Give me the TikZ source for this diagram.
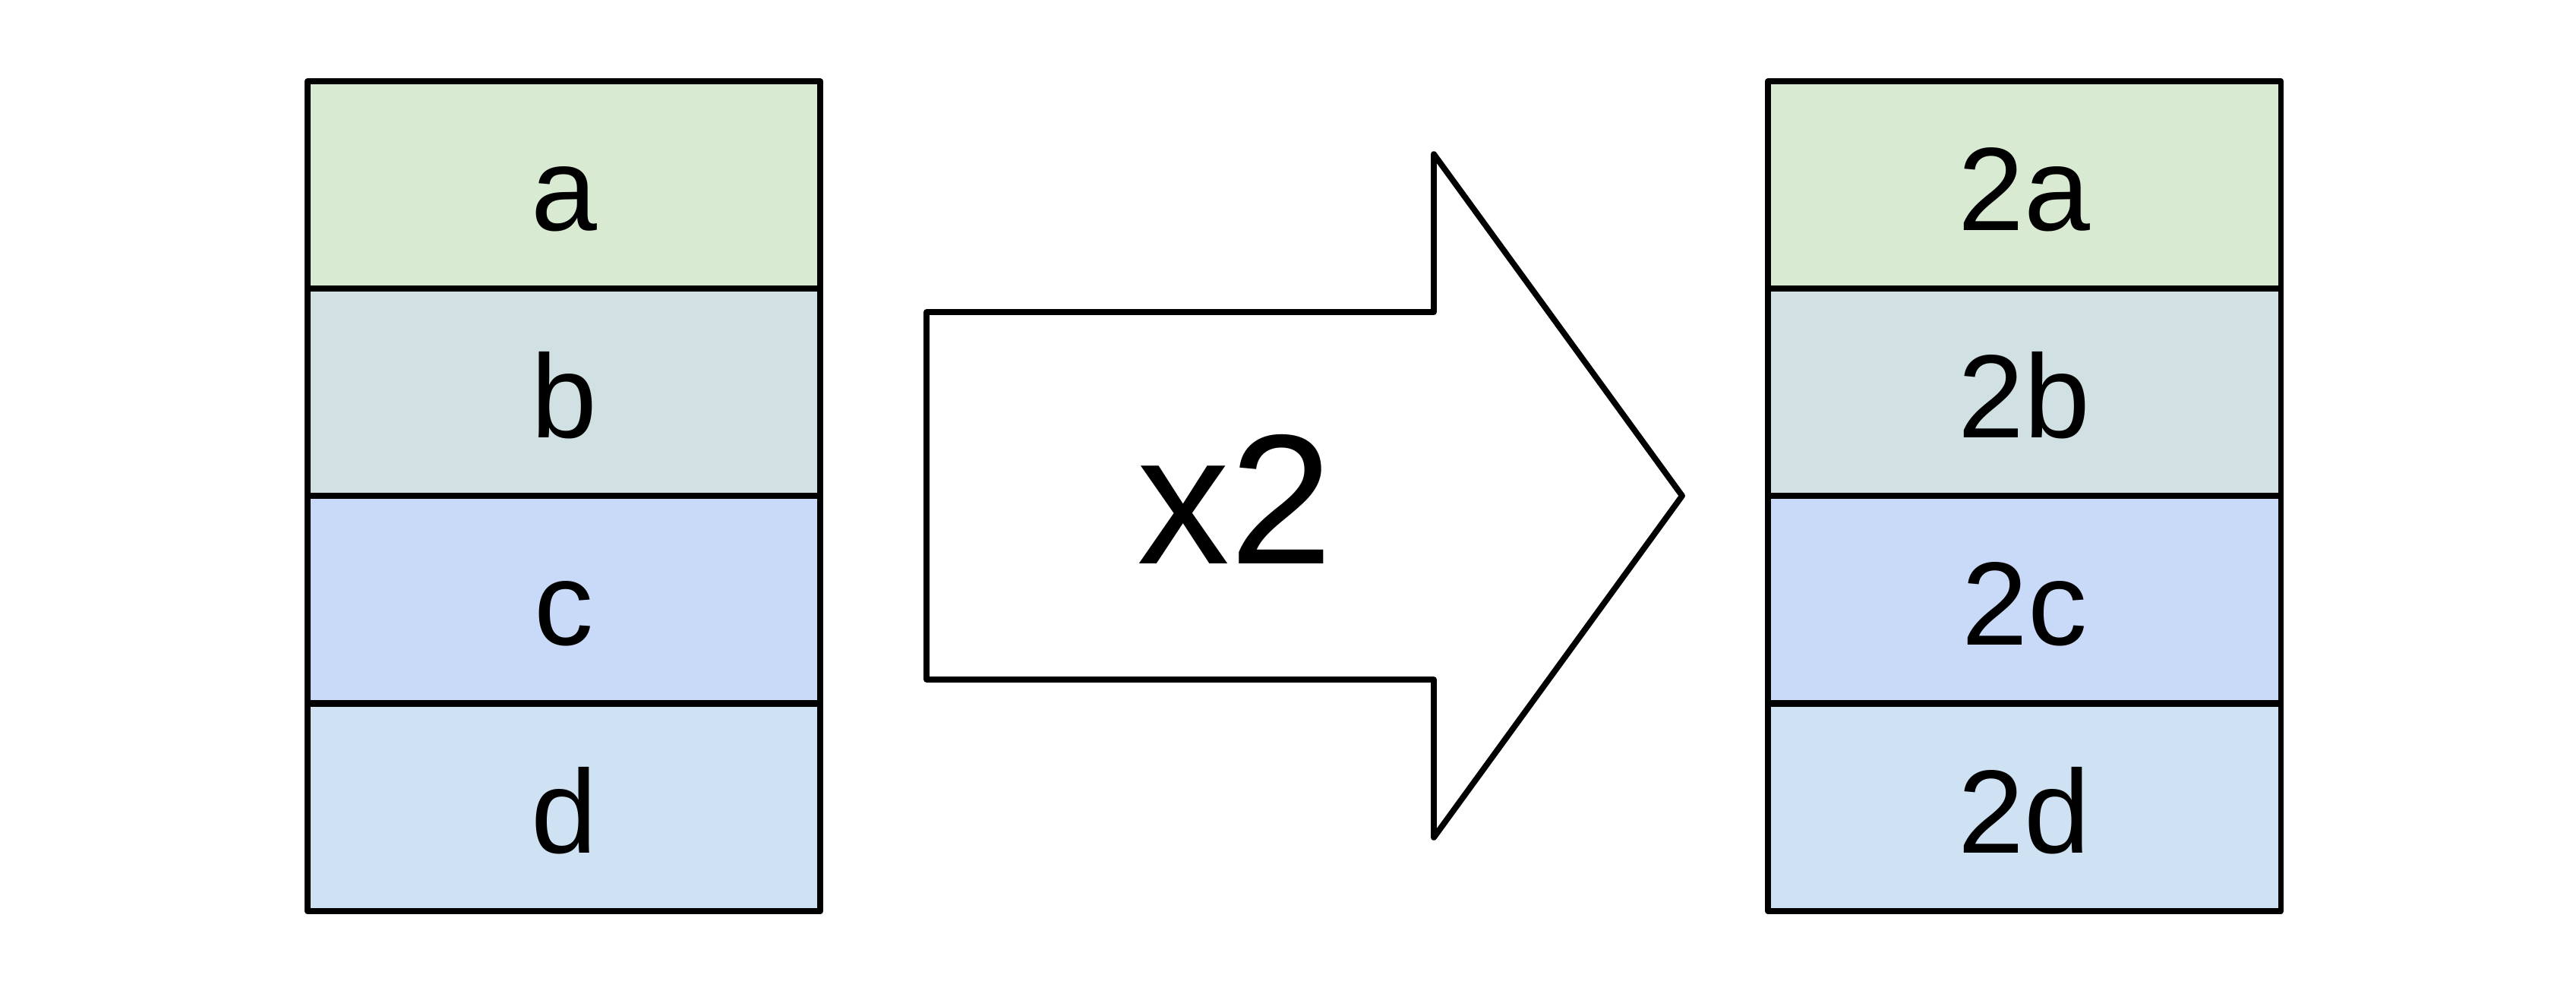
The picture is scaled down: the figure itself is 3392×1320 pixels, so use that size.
\documentclass[tikz,border=0pt]{standalone}
\usepackage{fontspec}
\setmainfont{Liberation Sans}
\definecolor{cA}{HTML}{D9EAD3}
\definecolor{cB}{HTML}{D0E0E3}
\definecolor{cC}{HTML}{C9DAF8}
\definecolor{cD}{HTML}{CFE2F3}
\begin{document}
\begin{tikzpicture}[x=0.01cm,y=-0.01cm,
  cell/.style={draw=black,line width=0.078cm,line join=round,minimum width=6.75cm,minimum height=2.73cm,inner sep=0pt,outer sep=0pt,
    font=\fontsize{44.4}{50}\selectfont,text height=1.2cm,text depth=0pt,anchor=north west},
  bigarrow/.style={draw=black,line width=0.078cm,line join=round,fill=white}]
\useasboundingbox (0,0) rectangle (3392,1320);
% left column
\node[cell,fill=cA] (la) at (405,107) {a};
\node[cell,fill=cB] (lb) at (405,380) {b};
\node[cell,fill=cC] (lc) at (405,653) {c};
\node[cell,fill=cD] (ld) at (405,927) {d};
% right column
\node[cell,fill=cA] (ra) at (2328,107) {2a};
\node[cell,fill=cB] (rb) at (2328,380) {2b};
\node[cell,fill=cC] (rc) at (2328,653) {2c};
\node[cell,fill=cD] (rd) at (2328,927) {2d};
% arrow
\draw[bigarrow] (1220,411) -- (1888,411) -- (1888,203) -- (2215,653) -- (1888,1103) -- (1888,895) -- (1220,895) -- cycle;
\node[font=\fontsize{69.3}{80}\selectfont,inner sep=0pt,anchor=base] (x2) at (1626,742) {x2};
\end{tikzpicture}
\end{document}
